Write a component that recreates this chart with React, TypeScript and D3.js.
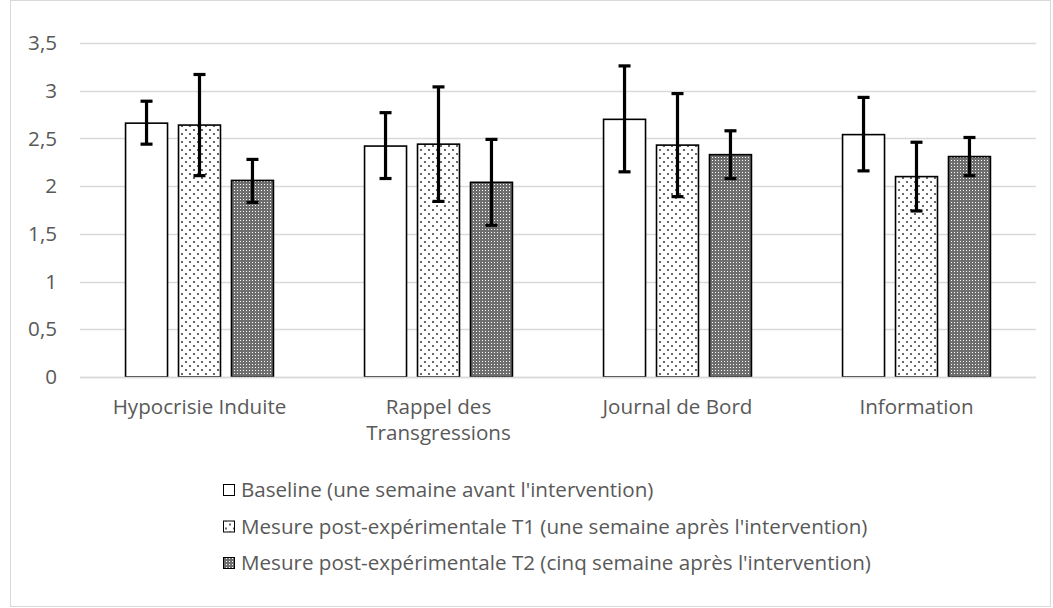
import React from "react";
import * as d3 from "d3";

const categories = ["Hypocrisie Induite", "Rappel des\nTransgressions", "Journal de Bord", "Information"];
const seriesNames = [
  "Baseline (une semaine avant l'intervention)",
  "Mesure post-expérimentale T1 (une semaine après l'intervention)",
  "Mesure post-expérimentale T2 (cinq semaine après l'intervention)",
];
const baseline = [2.66, 2.42, 2.70, 2.54];
const t1 = [2.64, 2.44, 2.43, 2.10];
const t2 = [2.06, 2.04, 2.33, 2.31];
const baselineLow = [2.44, 2.08, 2.15, 2.16];
const baselineHigh = [2.89, 2.77, 3.26, 2.93];
const t1Low = [2.11, 1.84, 1.89, 1.74];
const t1High = [3.17, 3.04, 2.97, 2.46];
const t2Low = [1.83, 1.59, 2.08, 2.11];
const t2High = [2.28, 2.49, 2.58, 2.51];
const yTicks = [0, 0.5, 1, 1.5, 2, 2.5, 3, 3.5];

const W = 1053;
const H = 608;
const FONT = "'Open Sans', sans-serif";
const FS = 20.6;
const TXT = "#595959";

export default function App() {
  const x0 = d3.scaleBand().domain(categories).range([80, 1036]).paddingInner(0).paddingOuter(0);
  const y = d3.scaleLinear().domain([0, 3.5]).range([377, 43]);
  const seriesKeys = ["b", "t1", "t2"];
  const x1 = d3.scaleBand().domain(seriesKeys).range([0, x0.bandwidth()]).paddingInner(0.2075).paddingOuter(0.86);
  const vals = [baseline, t1, t2];
  const lows = [baselineLow, t1Low, t2Low];
  const highs = [baselineHigh, t1High, t2High];
  const fills = ["#ffffff", "url(#patT1)", "url(#patT2)"];
  const fmt = (v: number) => String(v).replace(".", ",");

  return (
    <svg width={W} height={H} style={{ position: "absolute", left: 0, top: 0, background: "#fff" }}>
      <defs>
        <pattern id="patT1" width="8" height="8" patternUnits="userSpaceOnUse">
          <rect width="8" height="8" fill="#fff" />
          <circle cx="2" cy="2" r="1.1" fill="#444" />
          <circle cx="6" cy="6" r="1.1" fill="#444" />
        </pattern>
        <pattern id="patT2" width="3" height="3" patternUnits="userSpaceOnUse">
          <rect width="3" height="3" fill="#6e6e6e" />
          <rect x="1" y="1" width="1" height="1" fill="#ffffff" />
        </pattern>
      </defs>
      <rect x={10.5} y={0.5} width={1040} height={606} fill="#fff" stroke="#d9d9d9" />
      {yTicks.map((t) => (
        <g key={t}>
          <line x1={80} x2={1036} y1={Math.round(y(t)) + 0.5} y2={Math.round(y(t)) + 0.5} stroke="#d9d9d9" strokeWidth={1.3} />
          <text x={57} y={y(t)} dy="0.35em" textAnchor="end" fontFamily={FONT} fontSize={FS} fill={TXT}>
            {fmt(t)}
          </text>
        </g>
      ))}
      {categories.map((c, ci) => (
        <g key={c} transform={`translate(${x0(c)},0)`}>
          {seriesKeys.map((k, si) => {
            const v = vals[si][ci];
            const bx = x1(k)!;
            const bw = x1.bandwidth();
            return (
              <g key={k}>
                <rect x={bx} y={y(v)} width={bw} height={y(0) - y(v)} fill={fills[si]} stroke="#000" strokeWidth={1.6} />
                <line x1={bx + bw / 2} x2={bx + bw / 2} y1={y(lows[si][ci])} y2={y(highs[si][ci])} stroke="#000" strokeWidth={3.2} />
                <line x1={bx + bw / 2 - 6} x2={bx + bw / 2 + 6} y1={y(lows[si][ci])} y2={y(lows[si][ci])} stroke="#000" strokeWidth={3.2} />
                <line x1={bx + bw / 2 - 6} x2={bx + bw / 2 + 6} y1={y(highs[si][ci])} y2={y(highs[si][ci])} stroke="#000" strokeWidth={3.2} />
              </g>
            );
          })}
          {c.split("\n").map((line, li) => (
            <text key={li} x={x0.bandwidth() / 2} y={414 + li * 26} textAnchor="middle" fontFamily={FONT} fontSize={FS} fill={TXT}>
              {line}
            </text>
          ))}
        </g>
      ))}
      <line x1={80} x2={1036} y1={377.5} y2={377.5} stroke="#d9d9d9" strokeWidth={1.3} />
      {seriesNames.map((n, i) => (
        <g key={n} transform={`translate(0,${490 + i * 36.5})`}>
          <rect x={223.5} y={-5.5} width={11} height={11} fill={fills[i]} stroke="#000" strokeWidth={1} />
          <text x={241} y={0} dy="0.35em" fontFamily={FONT} fontSize={FS} fill={TXT}>
            {n}
          </text>
        </g>
      ))}
    </svg>
  );
}
